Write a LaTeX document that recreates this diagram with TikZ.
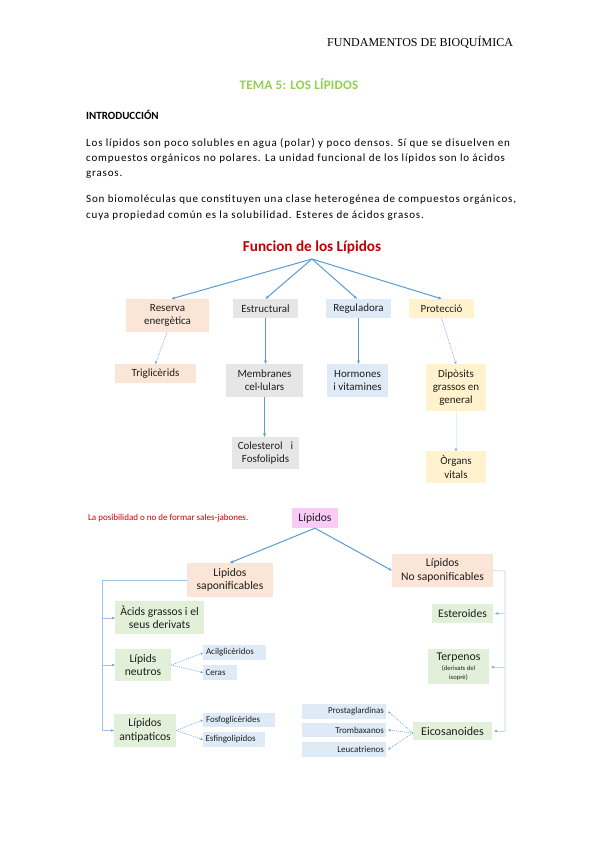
\documentclass[tikz,border=0pt]{standalone}
\usepackage{fontspec}
\setmainfont{Carlito}
\newfontfamily\timesf{Liberation Serif}
\usetikzlibrary{arrows.meta}
\definecolor{peach}{HTML}{FBE5D6}
\definecolor{grayb}{HTML}{E7E6E6}
\definecolor{blueb}{HTML}{DEEBF7}
\definecolor{yellowb}{HTML}{FFF2CC}
\definecolor{greenb}{HTML}{E2F0D9}
\definecolor{pinkb}{HTML}{FACBF6}
\definecolor{ablue}{HTML}{5B9BD5}
\definecolor{lblue}{HTML}{9DC3E6}
\definecolor{llblue}{HTML}{BDD7EE}
\definecolor{fblue}{HTML}{D6E6F5}
\definecolor{txt}{HTML}{1E1E1E}
\definecolor{titred}{HTML}{C00000}
\definecolor{sred}{HTML}{C80000}
\definecolor{tgreen}{HTML}{92D050}
\begin{document}
\begin{tikzpicture}[x=1pt,y=-1pt,
  bx/.style={rectangle, inner sep=0pt, align=center, text=txt},
  fa/.style={font=\fontsize{11}{13.3}\selectfont},
  fb/.style={font=\fontsize{11.6}{13.3}\selectfont},
  fc/.style={font=\fontsize{9}{10}\selectfont},
  para/.style={anchor=west, inner sep=0pt, font=\fontsize{11}{13}\selectfont\addfontfeature{LetterSpace=7.5}},
  arr/.style={draw=ablue, line width=1pt, -{Stealth[length=3.5pt,width=3pt]}},
  dotarr/.style={draw=ablue, line width=0.5pt, dash pattern=on 1pt off 1pt, -{Stealth[length=2.5pt,width=2.5pt]}},
  faintarr/.style={draw=fblue, line width=0.5pt, dash pattern=on 1pt off 1pt, -{Stealth[length=2.5pt,width=2.5pt,color=ablue]}},
  bline/.style={draw=lblue, line width=0.8pt},
  barr/.style={draw=lblue, line width=0.8pt, -{Stealth[length=3pt,width=2.5pt,color=ablue]}},
  rline/.style={draw=llblue, line width=0.6pt},
  rarr/.style={draw=llblue, line width=0.6pt, -{Stealth[length=3pt,width=2.5pt,color=ablue]}},
]
\useasboundingbox[fill=white] (0,0) rectangle (599,848);

% header and introduction
\node[anchor=west, inner sep=0pt, font=\timesf\fontsize{12}{13}\selectfont] (hdr) at (327,42) {FUNDAMENTOS DE BIOQUÍMICA};
\node[inner sep=0pt, text=tgreen, font=\bfseries\fontsize{13}{15}\selectfont\addfontfeature{LetterSpace=2}] (tema) at (299,84) {TEMA 5: LOS LÍPIDOS};
\node[anchor=west, inner sep=0pt, font=\bfseries\fontsize{11}{13}\selectfont] (intro) at (86,115) {INTRODUCCIÓN};
\node[para] (p1) at (86,143) {Los lípidos son poco solubles en agua (polar) y poco densos. Sí que se disuelven en};
\node[para] (p2) at (86,159) {compuestos orgánicos no polares. La unidad funcional de los lípidos son lo ácidos};
\node[para] (p3) at (86,175) {grasos.};
\node[para] (p4) at (86,200) {Son biomoléculas que constituyen una clase heterogénea de compuestos orgánicos,};
\node[para] (p5) at (86,216) {cuya propiedad común es la solubilidad. Esteres de ácidos grasos.};

% diagram 1
\node[inner sep=0pt, text=titred, font=\bfseries\fontsize{15.2}{17}\selectfont] (fun) at (312,247) {Funcion de los Lípidos};
\coordinate (hub) at (312,259);
\node[bx, fa, fill=peach, minimum width=83pt, minimum height=33pt] (res) at (167.5,315.5) {Reserva\\energètica};
\node[bx, fa, fill=grayb, minimum width=65pt, minimum height=19pt] (est) at (265.5,308.5) {Estructural};
\node[bx, fa, fill=blueb, minimum width=65pt, minimum height=19pt] (reg) at (358.5,308.5) {Reguladora};
\node[bx, fa, fill=yellowb, minimum width=65pt, minimum height=19pt] (pro) at (441.5,308.5) {Protecció};
\node[bx, fa, fill=peach, minimum width=81pt, minimum height=19pt] (tri) at (155.5,373.5) {Triglicèrids};
\node[bx, fa, fill=grayb, minimum width=77pt, minimum height=33pt] (mem) at (264.5,380.5) {Membranes\\cel·lulars};
\node[bx, fa, fill=blueb, minimum width=61pt, minimum height=33pt] (hor) at (357.5,380.5) {Hormones\\i vitamines};
\node[bx, fa, fill=yellowb, minimum width=60pt, minimum height=47pt] (dip) at (456,387.5) {Dipòsits\\grassos en\\general};
\node[bx, fa, fill=grayb, minimum width=67pt, minimum height=32pt] (col) at (265.5,453) {Colesterol\enspace\ i\\Fosfolipids};
\node[bx, fa, fill=yellowb, minimum width=60pt, minimum height=32pt] (org) at (456,467) {Òrgans\\vitals};

\draw[arr] (hub) -- ([xshift=4pt]res.north);
\draw[arr] (hub) -- (est.north);
\draw[arr] (hub) -- ([xshift=-1.5pt]reg.north);
\draw[arr] (hub) -- (pro.north);
\draw[dotarr] ([xshift=-0.5pt]res.south) -- (tri.north);
\draw[arr] (est.south) -- (est.south |- mem.north);
\draw[arr] (reg.south) -- (reg.south |- hor.north);
\draw[dotarr] (pro.south) -- (dip.north);
\draw[arr] (mem.south) -- (mem.south |- col.north);
\draw[faintarr] (dip.south) -- (org.north);

% diagram 2
\node[anchor=west, inner sep=0pt, text=sred, font=\fontsize{9}{10}\selectfont] (nota) at (88,518) {La posibilidad o no de formar sales-jabones.};
\node[bx, fb, fill=pinkb, minimum width=46pt, minimum height=20pt] (lip) at (315,518) {Lípidos};
\node[bx, fb, fill=peach, minimum width=86pt, minimum height=34pt] (sap) at (230,580) {Lipidos\\saponificables};
\node[bx, fb, fill=peach, minimum width=101pt, minimum height=33pt] (nosap) at (442.5,570.5) {Lípidos\\No saponificables};

\draw[arr] (lip.south) -- (sap.north);
\draw[arr] (lip.south) -- (nosap.west);

% left branch
\node[bx, fb, fill=greenb, minimum width=89pt, minimum height=33pt] (aci) at (159.5,617.5) {Àcids grassos i el\\seus derivats};
\node[bx, fb, fill=greenb, minimum width=56pt, minimum height=32pt] (neu) at (143,665) {Lípids\\neutros};
\node[bx, fb, fill=greenb, minimum width=62pt, minimum height=33pt] (anti) at (145,730.5) {Lípidos\\antipaticos};
\node[bx, fc, fill=blueb, minimum width=63pt, minimum height=15pt, text width=57pt, align=left] (acil) at (234.5,652.5) {Acilglicèridos};
\node[bx, fc, fill=blueb, minimum width=34pt, minimum height=15pt, text width=29pt, align=left] (cer) at (220,672.5) {Ceras};
\node[bx, fc, fill=blueb, minimum width=72pt, minimum height=14pt, text width=66pt, align=left] (fos) at (239,720) {Fosfoglicèrides};
\node[bx, fc, fill=blueb, minimum width=62pt, minimum height=15pt, text width=57pt, align=left] (esf) at (234,739.5) {Esfingolipidos};

\coordinate (lt) at (102,580);
\coordinate (la) at (102,618);
\coordinate (ln) at (102,665);
\coordinate (lz) at (102,730.5);
\draw[bline] (sap.west) -- (lt) -- (lz);
\draw[barr] (la) -- (la -| aci.west);
\draw[barr] (ln) -- (ln -| neu.west);
\draw[barr] (lz) -- (lz -| anti.west);
\draw[dotarr] (neu.east) -- ([yshift=-0.5pt]acil.west);
\draw[dotarr] (neu.east) -- (cer.west);
\draw[dotarr] (anti.east) -- (fos.west);
\draw[dotarr] (anti.east) -- (esf.west);

% right branch
\node[bx, fb, fill=greenb, minimum width=61pt, minimum height=19pt] (ste) at (462.5,613.5) {Esteroides};
\node[bx, fill=greenb, minimum width=61pt, minimum height=35pt] (ter) at (458.5,666.5) {{\fontsize{11.8}{12}\selectfont Terpenos}\\[-2pt]{\fontsize{6.6}{7}\selectfont (derivats del}\\[-2.5pt]{\fontsize{6.6}{7}\selectfont isoprè)}};
\node[bx, font=\fontsize{12}{13}\selectfont, fill=greenb, minimum width=79pt, minimum height=18pt] (eico) at (452.5,731) {Eicosanoides};
\node[bx, fc, fill=blueb, minimum width=84pt, minimum height=15pt, text width=80pt, align=right] (pros) at (344,711.5) {Prostaglardinas};
\node[bx, fc, fill=blueb, minimum width=84pt, minimum height=14pt, text width=80pt, align=right] (trom) at (344,730) {Trombaxanos};
\node[bx, fc, fill=blueb, minimum width=84pt, minimum height=15pt, text width=80pt, align=right] (leu) at (344,749.5) {Leucatrienos};

\coordinate (rt) at (505,571);
\coordinate (rs) at (505,613.5);
\coordinate (rp) at (505,667);
\coordinate (re) at (505,731);
\draw[rline] (nosap.east) -- (rt) -- (re);
\draw[rarr] (rs) -- ([xshift=2pt]rs -| ste.east);
\draw[rarr] (rp) -- ([xshift=2pt]rp -| ter.east);
\draw[rarr] (re) -- ([xshift=2pt]re -| eico.east);
\draw[dotarr] ([yshift=-2pt]eico.west) -- ([xshift=2pt]pros.east);
\draw[dotarr] ([yshift=-2pt]eico.west) -- ([xshift=2pt]trom.east);
\draw[dotarr] ([yshift=-2pt]eico.west) -- ([xshift=2pt]leu.east);
\end{tikzpicture}
\end{document}
